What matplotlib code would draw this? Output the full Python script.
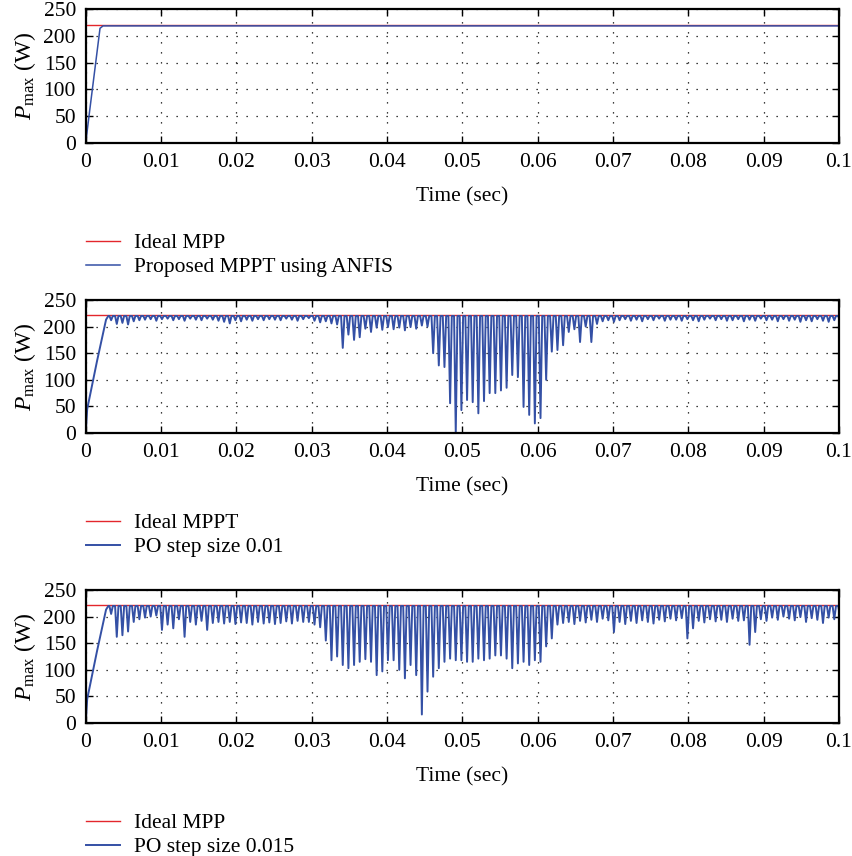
import numpy as np
import matplotlib
matplotlib.use("Agg")
import matplotlib.pyplot as plt

plt.rcParams['font.family'] = ['Liberation Serif', 'DejaVu Serif']
plt.rcParams['mathtext.fontset'] = 'custom'
plt.rcParams['mathtext.rm'] = 'Liberation Serif'
plt.rcParams['mathtext.it'] = 'Liberation Serif:italic'

# ---- data ----
ideal_levels = [219.5, 221.0, 221.0]
legend_labels = [
    ("Ideal MPP", "Proposed MPPT using ANFIS"),
    ("Ideal MPPT", "PO step size 0.01"),
    ("Ideal MPP", "PO step size 0.015"),
]

# ANFIS: ramp then steady
anfis_t = [0, 0.00048, 0.0019, 0.0023, 0.1]
anfis_p = [0, 55, 214, 218.5, 218.5]

# start-up ramp of the P&O trackers
ramp_t = [0, 0.0002, 0.0015, 0.0027, 0.0030]
ramp_p = [0, 45, 135, 213, 220]

cycle_start = 0.003
cycle_period = 0.00075
cycle_top = 220

# P&O step 0.01: minimum of each oscillation cycle (10 cycles per row)
po01_dips = [
    212, 205, 207, 204, 210, 212, 213, 214, 211, 214,
    215, 212, 214, 211, 215, 213, 212, 215, 213, 211,
    209, 206, 212, 210, 213, 211, 214, 212, 214, 213,
    212, 215, 213, 211, 214, 216, 211, 208, 210, 206,
    204, 160, 185, 175, 180, 196, 190, 198, 194, 199,
    195, 198, 193, 199, 196, 202, 200, 150, 127, 124,
    56, 0, 43, 62, 58, 37, 60, 75, 75, 80,
    85, 109, 105, 49, 34, 18, 28, 100, 153, 156,
    165, 190, 195, 171, 200, 171, 205, 210, 212, 209,
    212, 214, 211, 213, 210, 214, 212, 215, 211, 213,
    213, 211, 214, 212, 210, 213, 215, 212, 214, 211,
    212, 214, 210, 213, 211, 215, 212, 213, 210, 214,
    211, 213, 209, 212, 210, 214, 211, 209, 212, 210,
]

# P&O step 0.015
po015_dips = [
    205, 162, 165, 172, 190, 195, 198, 200, 202, 175,
    185, 178, 195, 162, 190, 185, 192, 175, 188, 190,
    187, 190, 186, 189, 188, 185, 190, 187, 189, 186,
    188, 191, 187, 192, 190, 190, 185, 180, 155, 118,
    125, 109, 103, 109, 115, 120, 115, 90, 97, 118,
    118, 100, 84, 109, 90, 16, 59, 87, 103, 115,
    121, 118, 118, 115, 115, 121, 118, 121, 127, 127,
    121, 103, 112, 115, 109, 118, 115, 144, 159, 185,
    188, 190, 186, 192, 189, 194, 190, 196, 193, 171,
    190, 186, 192, 188, 193, 190, 187, 194, 191, 196,
    193, 197, 159, 178, 192, 189, 195, 191, 194, 190,
    196, 192, 193, 147, 171, 195, 192, 198, 194, 200,
    196, 193, 199, 190, 197, 194, 188, 198, 195, 200,
]

x_ticks = [0, 0.01, 0.02, 0.03, 0.04, 0.05, 0.06, 0.07, 0.08, 0.09, 0.1]
x_tick_labels = ["0", "0.01", "0.02", "0.03", "0.04", "0.05", "0.06",
                 "0.07", "0.08", "0.09", "0.1"]
y_ticks = [0, 50, 100, 150, 200, 250]

RED = '#e3262c'
BLUE = '#3450a5'


def po_trace(dips):
    t = list(ramp_t)
    p = list(ramp_p)
    for k, d in enumerate(dips):
        a = cycle_start + k * cycle_period
        t += [a + 0.2 * cycle_period, a + 0.5 * cycle_period, a + 0.8 * cycle_period]
        p += [cycle_top, d, cycle_top]
    return t, p


traces = [(anfis_t, anfis_p), po_trace(po01_dips), po_trace(po015_dips)]

W, H = 853, 856
fig = plt.figure(figsize=(W / 100, H / 100), dpi=100)

axes_px = [(9, 143), (300, 433), (590, 723)]
legend_top_px = [233, 513, 813]
left_px, right_px = 85.7, 839

for i in range(3):
    top, bot = axes_px[i]
    ax = fig.add_axes([left_px / W, 1 - bot / H, (right_px - left_px) / W, (bot - top) / H])
    t, p = traces[i]
    l1, = ax.plot([0, 0.1], [ideal_levels[i]] * 2, color=RED, lw=1.0)
    l2, = ax.plot(t, p, color=BLUE, lw=1.4 if i > 0 else 1.1)
    ax.set_xlim(0, 0.1)
    ax.set_ylim(0, 250)
    ax.set_xticks(x_ticks)
    ax.set_xticklabels(x_tick_labels)
    ax.set_yticks(y_ticks)
    ax.tick_params(direction='in', top=True, right=True, length=5, width=1,
                   labelsize=15.5, pad=7)
    ax.grid(True, color='black', linestyle=(0, (1, 7)), linewidth=0.9)
    for s in ax.spines.values():
        s.set_linewidth(1.6)
    ax.set_xlabel("Time (sec)", fontsize=15.5, labelpad=11)
    ax.set_ylabel(r"$P_{\mathrm{max}}$ (W)", fontsize=17, labelpad=4)

    fig.legend([l1, l2], list(legend_labels[i]), loc='upper left',
               bbox_to_anchor=(86 / W, 1 - legend_top_px[i] / H),
               frameon=False, fontsize=15.5, borderpad=0, borderaxespad=0,
               handlelength=1.6, handletextpad=0.65, labelspacing=0.2)

fig.savefig("out.png", dpi=100)
